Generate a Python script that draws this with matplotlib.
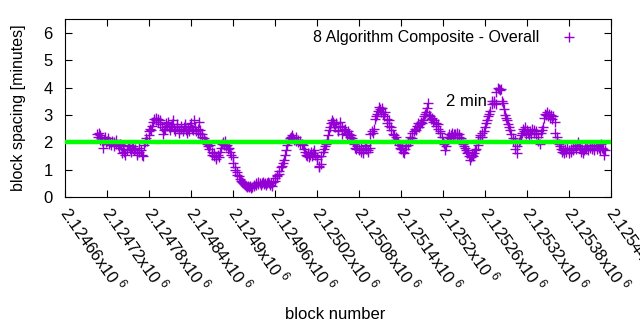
#!/usr/bin/env python3

import numpy as np
import matplotlib
matplotlib.use('Agg')
import matplotlib.pyplot as plt

plt.rcParams['font.family'] = ['Liberation Sans', 'DejaVu Sans']
plt.rcParams['mathtext.fontset'] = 'custom'
plt.rcParams['mathtext.rm'] = 'Liberation Sans'

Spec_figsize = (6.4, 3.3)
Spec_dpi = 100

BaseBlock = 2124660

# block offset from BaseBlock, block spacing in minutes
BlockOffset = [
    46, 47, 48, 49, 50, 51, 53, 54, 55, 57, 58, 60, 61, 63, 64, 66, 67, 69, 70, 72,
    73, 75, 77, 78, 80, 81, 83, 84, 86, 88, 89, 91, 92, 94, 95, 97, 98, 100, 102, 103,
    105, 106, 108, 109, 111, 113, 114, 116, 117, 119, 120,
    121, 123, 124, 126, 127, 129, 130, 132, 133, 135, 136, 138, 139, 141, 142, 144, 145, 147, 148, 150,
    151, 153, 154, 156, 157, 159, 160, 162, 163, 165, 166, 168, 169, 171, 172, 174, 175, 177, 178, 180,
    181, 183, 184, 186, 187, 189, 190, 191, 192, 193, 195, 196, 198,
    200, 201, 203, 204, 206, 207, 209, 210, 212, 213, 215, 216, 218, 219, 221, 222, 224, 225, 227, 228,
    230, 231, 233, 234, 236, 237, 239, 240, 242, 243, 245, 246, 248, 249, 251, 252, 254, 255,
    257, 258, 260, 261, 263, 264, 266, 267, 269, 270, 272, 273, 275, 276, 278, 279, 281, 282, 284, 285,
    287, 288, 290, 291, 293, 294, 296, 297, 299, 300, 302, 303, 305, 306, 308, 309, 311, 312, 314, 315,
    317, 318, 320,
    321, 323, 324, 326, 327, 329, 330, 332, 333, 335, 336, 338, 339, 341, 342, 344, 345, 347, 348, 350,
    351, 353, 354, 356, 357, 359, 360, 362, 363, 365,
    366, 368, 369, 371, 372, 374, 375, 377, 378, 380, 381, 383, 384, 386, 387, 389, 390, 392, 393, 395,
    396, 398, 399, 401, 402, 404, 405, 407, 408, 410, 411, 413, 414, 416, 417, 419, 420, 422, 423, 425,
    426, 428,
    429, 430, 432, 433, 435, 436, 438, 439, 441, 442, 444, 445, 447, 448, 450, 451, 453, 454, 456, 457,
    459, 460, 462, 463, 465, 466, 468, 469, 471, 472, 474, 475, 477, 478,
    480, 481, 483, 484, 486, 487, 489, 490, 492, 493, 495, 496, 498, 499, 501, 502, 504, 505, 507, 508,
    510, 511, 513, 514, 516, 517, 518, 520, 521, 523, 524, 526, 527, 529, 530, 532, 533, 535, 536, 538,
    539, 541, 542, 544, 545, 547, 548, 550, 551, 553, 554, 556,
    557, 559, 560, 562, 563, 565, 566, 568, 569, 571, 572, 574, 575, 577, 578, 580, 581, 583, 584, 586,
    587, 589, 590, 592, 593, 595, 596, 598,
    600, 601, 603, 604, 606, 607, 609, 610, 612, 613, 615, 616, 618, 619, 621, 622, 624, 625, 627, 628,
    630, 631, 633, 634, 636, 637, 639, 640, 642, 643, 645, 646, 648, 649,
    651, 652, 654, 655, 657, 658, 660, 661, 663, 664, 666, 667, 669, 670, 672, 673, 675, 676, 678, 679,
    681, 682, 684, 685, 687, 688, 690, 691, 693, 694, 696, 697, 699, 700, 702, 703, 705,
    707, 708, 710, 711, 713, 714, 716, 717, 719, 720, 722, 723, 725, 726, 728, 729, 731, 732, 734, 735,
    737, 738, 740, 741, 743, 744, 746, 747, 749, 750, 752, 753, 755, 756, 758, 759, 761, 762, 764, 765,
    767, 768, 770, 771,
]

Spacing = [
    2.30, 2.20, 2.35, 2.10, 2.25, 2.15, 2.05, 1.80, 2.10, 2.20, 2.00, 2.05, 2.15, 1.95, 2.00, 1.90, 2.05, 1.85, 2.00, 1.95,
    2.10, 1.90, 1.80, 1.95, 1.85, 1.60, 1.75, 1.65, 1.55, 1.70, 1.90, 1.85, 1.75, 1.65, 1.80, 1.85, 1.70, 1.75, 1.60, 1.55,
    1.65, 1.80, 1.70, 1.55, 1.50, 1.90, 2.00, 2.15, 2.05, 2.25, 2.40,
    2.50, 2.45, 2.60, 2.75, 2.85, 2.80, 2.90, 2.75, 2.85, 2.80, 2.65, 2.55, 2.30, 2.45, 2.50, 2.70, 2.60, 2.75, 2.55, 2.45,
    2.60, 2.65, 2.80, 2.50, 2.40, 2.55, 2.65, 2.45, 2.35, 2.50, 2.60, 2.40, 2.55, 2.65, 2.45, 2.35, 2.50, 2.40, 2.60, 2.70,
    2.50, 2.45, 2.80, 2.55, 2.40, 2.35, 2.50, 2.75, 2.45, 2.30, 2.20, 2.30, 2.15,
    2.05, 2.00, 1.95, 1.85, 1.75, 1.90, 1.65, 1.55, 1.60, 1.50, 1.45, 1.40, 1.55, 1.45, 1.65, 1.80, 1.95, 2.00, 1.90, 2.05,
    1.85, 1.90, 1.75, 1.80, 1.65, 1.55, 1.45, 1.25, 1.10, 1.00, 0.90, 0.80, 0.75, 0.65, 0.60, 0.55, 0.50, 0.48,
    0.45, 0.40, 0.38, 0.42, 0.35, 0.40, 0.33, 0.38, 0.45, 0.40, 0.50, 0.45, 0.55, 0.48, 0.52, 0.45, 0.50, 0.55, 0.48, 0.52,
    0.45, 0.50, 0.55, 0.50, 0.45, 0.50, 0.42, 0.55, 0.60, 0.70, 0.75, 0.80, 0.85, 0.95, 1.10, 1.15, 1.25, 1.35, 1.55, 1.70,
    1.90, 2.05, 2.10,
    2.15, 2.20, 2.25, 2.15, 2.10, 2.20, 2.05, 2.10, 2.00, 1.95, 2.05, 1.95, 1.90, 1.75, 1.65, 1.55, 1.50, 1.60, 1.45, 1.55,
    1.65, 1.50, 1.60, 1.70, 1.55, 1.45, 1.40, 1.15, 1.10, 1.20,
    1.50, 1.65, 1.75, 1.85, 1.95, 2.10, 2.25, 2.45, 2.55, 2.70, 2.80, 2.75, 2.65, 2.55, 2.70, 2.45, 2.40, 2.60, 2.75, 2.55,
    2.30, 2.45, 2.50, 2.35, 2.25, 2.40, 2.30, 2.20, 2.25, 2.15, 2.05, 1.95, 1.80, 1.75, 1.85, 1.70, 1.75, 1.65, 1.80, 1.60,
    1.70, 1.85,
    1.90, 1.75, 1.65, 1.70, 1.80, 2.30, 2.40, 2.35, 2.50, 2.85, 2.95, 3.05, 3.15, 3.30, 3.20, 3.10, 3.25, 3.05, 2.95, 3.10,
    2.85, 2.70, 2.80, 2.60, 2.45, 2.55, 2.30, 2.25, 2.10, 2.20, 2.05, 2.00, 1.90, 1.80,
    1.75, 1.85, 1.65, 1.60, 1.75, 1.85, 1.90, 2.00, 2.10, 2.20, 2.15, 2.35, 2.40, 2.50, 2.45, 2.60, 2.70, 2.55, 2.65, 2.75,
    2.70, 2.80, 2.95, 3.05, 3.10, 3.25, 3.45, 3.00, 2.95, 2.85, 2.90, 2.75, 2.80, 2.60, 2.70, 2.65, 2.50, 2.40, 2.35, 2.20,
    2.00, 1.95, 1.70, 1.85, 2.05, 2.20, 2.30, 2.15, 2.25, 2.35, 2.20, 2.30,
    2.30, 2.25, 2.35, 2.20, 2.30, 2.10, 2.15, 1.95, 1.85, 1.80, 1.70, 1.60, 1.65, 1.50, 1.35, 1.45, 1.55, 1.50, 1.60, 1.70,
    1.75, 1.90, 2.10, 2.20, 2.25, 2.35, 2.20, 2.40,
    2.55, 2.70, 2.80, 2.95, 3.05, 3.15, 3.40, 3.50, 3.45, 3.50, 3.40, 3.85, 4.00, 3.95, 3.90, 3.95, 3.50, 3.45, 3.20, 3.00,
    2.90, 2.80, 2.65, 2.55, 2.45, 2.30, 2.15, 2.05, 2.10, 1.75, 1.60, 1.85, 2.00, 2.10,
    2.25, 2.35, 2.50, 2.40, 2.55, 2.30, 2.45, 2.35, 2.20, 2.40, 2.30, 2.50, 2.35, 2.45, 2.30, 2.40, 2.20, 2.05, 1.95, 2.35,
    2.45, 2.55, 2.90, 3.05, 3.00, 3.10, 2.95, 3.05, 2.90, 3.00, 2.85, 2.95, 2.75, 2.35, 2.20, 2.10, 1.95,
    1.85, 1.75, 1.65, 1.70, 1.60, 1.75, 1.65, 1.80, 1.70, 1.60, 1.75, 1.65, 1.80, 1.70, 1.85, 1.75, 1.90, 2.00, 1.85, 1.80,
    1.65, 1.75, 1.60, 1.70, 1.80, 1.75, 1.85, 1.70, 1.90, 1.80, 1.75, 1.85, 1.70, 1.80, 1.90, 1.75, 1.85, 1.80, 1.70, 1.95,
    1.80, 1.75, 1.55, 1.70,
]

XTicks = list(range(2124660, 2125441, 60))
XLabels = ['%gx10$^{\\ 6}$' % (t / 1e6) for t in XTicks]
YTicks = [0, 1, 2, 3, 4, 5, 6]

TargetSpacing = 2.0

Block = np.array(BlockOffset) + BaseBlock

fig = plt.figure(figsize=Spec_figsize, dpi=Spec_dpi)
ax = fig.add_axes([0.102, 0.403, 0.853, 0.539])

ax.plot(Block, Spacing, linestyle='none', marker='+', markersize=6.5, markeredgewidth=1.0,
        color='#9400d3', label='8 Algorithm Composite - Overall', zorder=2)
ax.axhline(TargetSpacing, color='#00ff00', linewidth=3.2, zorder=3)
ax.text(BaseBlock + 544, 3.5, '2 min', fontsize=12, ha='left', va='center')

ax.set_xlim(XTicks[0], XTicks[-1])
ax.set_ylim(0, 6.5)

ax.set_xticks(XTicks)
ax.set_xticklabels(XLabels, rotation=-55, ha='left', va='center', rotation_mode='anchor', fontsize=12)
ax.set_yticks(YTicks)
ax.set_yticklabels([str(v) for v in YTicks], fontsize=12)
ax.tick_params(direction='in', top=True, right=True, length=5, width=0.8)
ax.tick_params(axis='x', pad=8)
ax.tick_params(axis='y', pad=9)

ax.set_xlabel('block number', fontsize=12, va='center')
ax.xaxis.set_label_coords(0.494, -0.663)
ax.set_ylabel('block spacing [minutes]', fontsize=11.5, va='center')
ax.yaxis.set_label_coords(-0.086, 0.5)

ax.legend(loc='upper right', bbox_to_anchor=(0.965, 1.0), frameon=False, markerfirst=False,
          fontsize=11.5, handlelength=1.5, handletextpad=1.1, borderaxespad=0.3)

fig.savefig('out.png', dpi=Spec_dpi)
